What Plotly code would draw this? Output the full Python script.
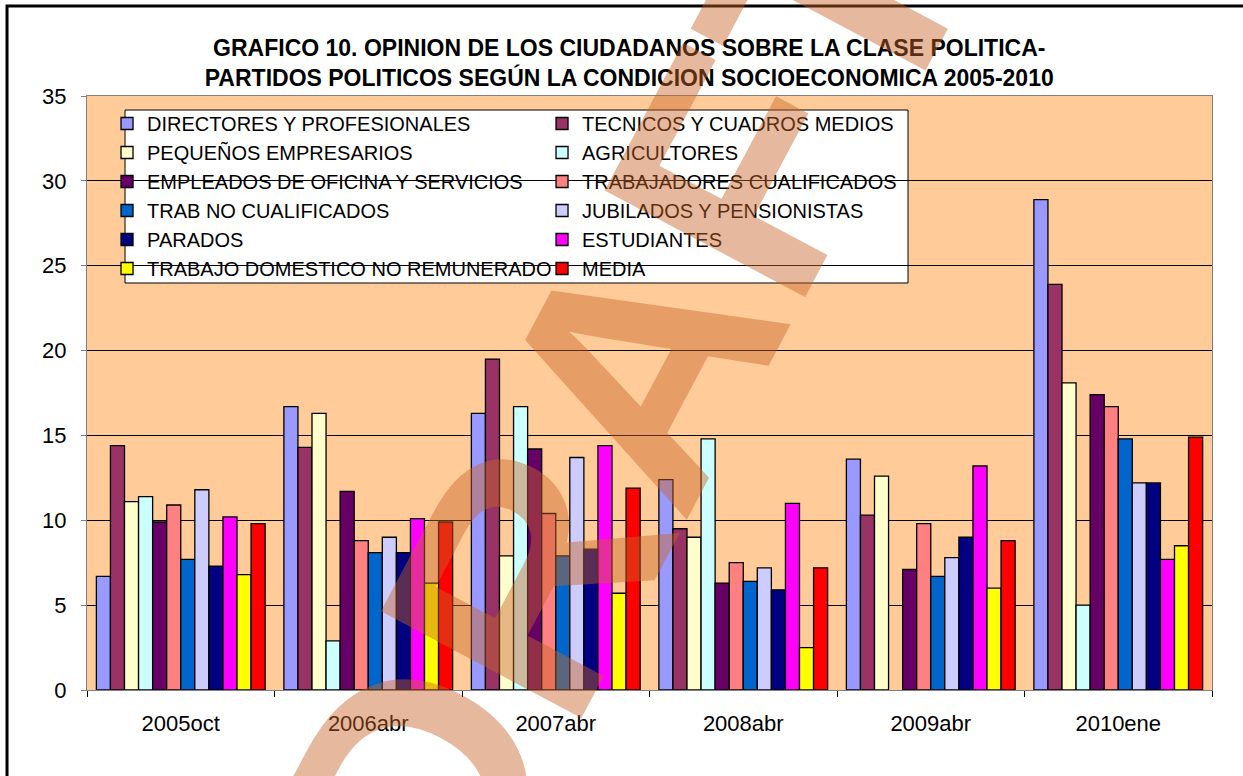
import plotly.graph_objects as go

# Data ---------------------------------------------------------------------------------------------- #
periods = ["2005oct", "2006abr", "2007abr", "2008abr", "2009abr", "2010ene"]

directores = [6.7, 16.7, 16.3, 12.4, 13.6, 28.9]
tecnicos = [14.4, 14.3, 19.5, 9.5, 10.3, 23.9]
pequenos = [11.1, 16.3, 7.9, 9.0, 12.6, 18.1]
agricultores = [11.4, 2.9, 16.7, 14.8, None, 5.0]
empleados = [9.9, 11.7, 14.2, 6.3, 7.1, 17.4]
trab_cualif = [10.9, 8.8, 10.4, 7.5, 9.8, 16.7]
trab_no_cualif = [7.7, 8.1, 7.9, 6.4, 6.7, 14.8]
jubilados = [11.8, 9.0, 13.7, 7.2, 7.8, 12.2]
parados = [7.3, 8.1, 8.3, 5.9, 9.0, 12.2]
estudiantes = [10.2, 10.1, 14.4, 11.0, 13.2, 7.7]
trabajo_domestico = [6.8, 6.3, 5.7, 2.5, 6.0, 8.5]
media = [9.8, 9.9, 11.9, 7.2, 8.8, 14.9]

series = [
    ("DIRECTORES Y PROFESIONALES", directores, "#9999FF"),
    ("TECNICOS Y CUADROS MEDIOS", tecnicos, "#993366"),
    ("PEQUEÑOS EMPRESARIOS", pequenos, "#FFFFCC"),
    ("AGRICULTORES", agricultores, "#CCFFFF"),
    ("EMPLEADOS DE OFICINA Y SERVICIOS", empleados, "#660066"),
    ("TRABAJADORES CUALIFICADOS", trab_cualif, "#FF8080"),
    ("TRAB NO CUALIFICADOS", trab_no_cualif, "#0066CC"),
    ("JUBILADOS Y PENSIONISTAS", jubilados, "#CCCCFF"),
    ("PARADOS", parados, "#000080"),
    ("ESTUDIANTES", estudiantes, "#FF00FF"),
    ("TRABAJO DOMESTICO NO REMUNERADO", trabajo_domestico, "#FFFF00"),
    ("MEDIA", media, "#FF0000"),
]

FONT = "Arial, Liberation Sans, sans-serif"

fig = go.Figure()
for name, vals, col in series:
    fig.add_trace(go.Bar(x=periods, y=vals, name=name,
                         marker=dict(color=col, line=dict(color="black", width=1.3))))

fig.update_layout(
    width=1243, height=776,
    margin=dict(l=87, r=31, t=96, b=86),
    paper_bgcolor="white", plot_bgcolor="#FFCC99",
    barmode="group", bargap=0.1, bargroupgap=0,
    font=dict(family=FONT, color="black"),
    title=dict(text="<b>GRAFICO 10. OPINION DE LOS CIUDADANOS SOBRE LA CLASE POLITICA-<br>"
                    "PARTIDOS POLITICOS SEGÚN LA CONDICION SOCIOECONOMICA 2005-2010</b>",
               x=0.482, xref="paper", xanchor="center", y=0.928, yanchor="middle",
               font=dict(size=23, family=FONT)),
    legend=dict(orientation="h", x=0.0178, y=0.9865, xanchor="left", yanchor="top",
                bgcolor="rgba(0,0,0,0)", borderwidth=0,
                font=dict(size=20, family=FONT), entrywidth=390, traceorder="normal"),
)

fig.update_yaxes(range=[0, 35], dtick=5, showgrid=True, gridcolor="black", gridwidth=1,
                 ticks="outside", ticklen=5, tickcolor="#808080",
                 showline=True, linecolor="#808080", mirror=True,
                 tickfont=dict(size=22, family=FONT), ticklabelstandoff=10, zeroline=False)
fig.update_xaxes(tickson="boundaries", ticks="outside", ticklen=6, tickcolor="black",
                 showline=True, linecolor="#808080", mirror=True,
                 tickfont=dict(size=22, family=FONT), ticklabelstandoff=14)

# outer chart border (only left and top visible)
fig.add_shape(type="rect", xref="paper", yref="paper", x0=-0.0711, y0=-0.3, x1=1.2, y1=1.1515,
              line=dict(color="black", width=3), layer="below")

# legend box, wider than the entries, covering the gridlines
fig.add_shape(type="rect", xref="paper", yref="paper", x0=0.0338, y0=0.6852, x1=0.7298, y1=0.9764,
              fillcolor="white", line=dict(color="black", width=1), layer="between")

# draft watermark
fig.add_annotation(text="<b>DRAFT</b>", xref="paper", yref="paper", x=0.474, y=0.488,
                   showarrow=False, textangle=-62,
                   font=dict(size=330, family=FONT, color="rgba(200,100,40,0.45)"))

fig.write_html("out.html", config={"displayModeBar": False},
               post_script="document.body.style.margin='0';")
